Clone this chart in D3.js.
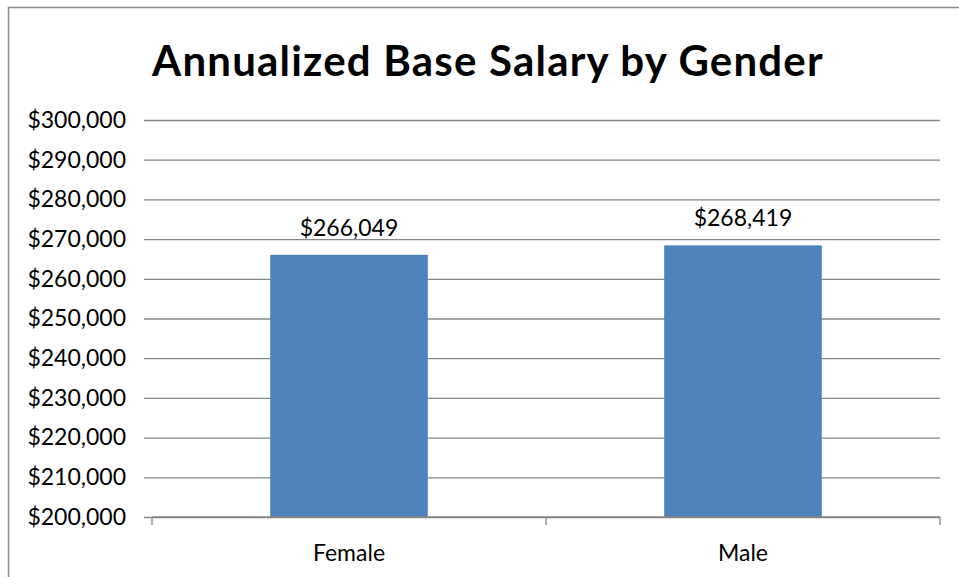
<!DOCTYPE html>
<html>
<head>
<meta charset="utf-8">
<script src="https://cdn.jsdelivr.net/npm/d3@7"></script>
<style>
  html, body { margin: 0; padding: 0; background: #fff; }
  svg { display: block; }
</style>
</head>
<body>
<div id="chart"></div>
<script>
const title = "Annualized Base Salary by Gender";
const categories = ["Female", "Male"];
const salaries = [266049, 268419];
const yTicks = [200000, 210000, 220000, 230000, 240000, 250000, 260000, 270000, 280000, 290000, 300000];

function init() {
    const w = 959; // page width
    const h = 577; // page height
    const left = 152, right = 940; // plot area edges
    const top = 120, bottom = 517;
    const font = "Lato, 'Open Sans', sans-serif";

    const svg = d3.select("#chart")
        .append("svg")
        .attr("width", w)
        .attr("height", h);

    // chart border (right and bottom run past the picture)
    svg.append("rect")
        .attr("x", 8.5)
        .attr("y", 7.5)
        .attr("width", 970)
        .attr("height", 600)
        .attr("fill", "none")
        .attr("stroke", "#8c8c8c")
        .attr("stroke-width", 1.5);

    const xScale = d3.scaleBand()
        .domain(categories)
        .range([left, right])
        .padding(0);

    const yScale = d3.scaleLinear()
        .domain([200000, 300000])
        .range([bottom, top]);

    const fmt = d3.format("$,");

    // gridlines + y labels
    const yAxis = d3.axisLeft(yScale)
        .tickValues(yTicks)
        .tickSize(-(right - left) - 8)
        .tickPadding(18)
        .tickFormat(fmt);

    const gy = svg.append("g")
        .attr("transform", `translate(${left - 8},0)`)
        .call(yAxis);
    gy.select(".domain").remove();
    gy.selectAll("line")
        .attr("stroke", "#868686")
        .attr("stroke-width", 1.3)
        .attr("x2", right - left + 8);
    gy.selectAll("text")
        .attr("x", -18)
        .attr("font-family", font)
        .attr("font-size", "23px")
        .attr("fill", "#000");

    // bars
    const barW = xScale.bandwidth() * 0.4;
    svg.selectAll("rect.bar")
        .data(categories)
        .enter()
        .append("rect")
        .attr("class", "bar")
        .attr("x", d => xScale(d) + (xScale.bandwidth() - barW) / 2)
        .attr("y", (d, i) => yScale(salaries[i]))
        .attr("width", barW)
        .attr("height", (d, i) => bottom - yScale(salaries[i]))
        .attr("fill", "#4f81bd");

    // x axis with boundary ticks
    const gx = svg.append("g")
        .attr("transform", `translate(0,${bottom})`);
    gx.append("line")
        .attr("x1", left).attr("x2", right)
        .attr("stroke", "#868686").attr("stroke-width", 1.3);
    const boundaries = [left, ...categories.map(c => xScale(c) + xScale.bandwidth())];
    gx.selectAll("line.tick")
        .data(boundaries)
        .enter()
        .append("line")
        .attr("class", "tick")
        .attr("x1", d => d).attr("x2", d => d)
        .attr("y1", 0).attr("y2", 8)
        .attr("stroke", "#868686").attr("stroke-width", 1.3);
    gx.selectAll("text")
        .data(categories)
        .enter()
        .append("text")
        .attr("x", d => xScale(d) + xScale.bandwidth() / 2)
        .attr("y", 44)
        .attr("text-anchor", "middle")
        .attr("font-family", font)
        .attr("font-size", "23px")
        .text(d => d);

    // data labels
    svg.selectAll("text.label")
        .data(categories)
        .enter()
        .append("text")
        .attr("class", "label")
        .attr("x", d => xScale(d) + xScale.bandwidth() / 2)
        .attr("y", (d, i) => yScale(salaries[i]) - 19)
        .attr("text-anchor", "middle")
        .attr("font-family", font)
        .attr("font-size", "23px")
        .text((d, i) => fmt(salaries[i]));

    // title
    svg.append("text")
        .attr("x", 488)
        .attr("y", 76)
        .attr("text-anchor", "middle")
        .attr("font-family", font)
        .attr("font-weight", "bold")
        .attr("font-size", "42px")
        .attr("letter-spacing", "1.2px")
        .text(title);
}

window.onload = init;
</script>
</body>
</html>
